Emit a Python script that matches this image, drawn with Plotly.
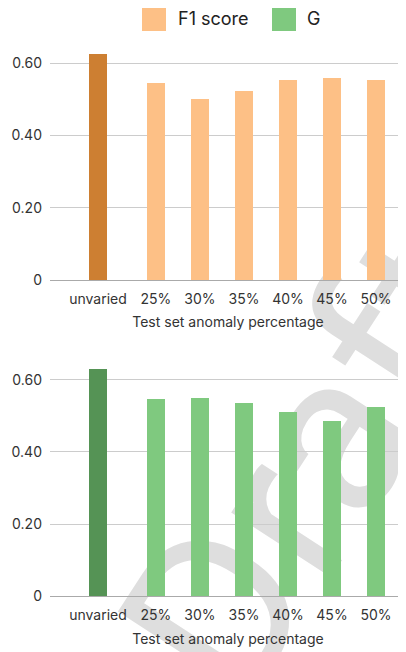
import plotly.graph_objects as go

categories = ["unvaried", "25%", "30%", "35%", "40%", "45%", "50%"]
f1_values = [0.628, 0.546, 0.504, 0.524, 0.554, 0.562, 0.554]
g_values = [0.630, 0.546, 0.551, 0.537, 0.512, 0.485, 0.524]
y_ticks = [0, 0.2, 0.4, 0.6]
y_ticktext = ["0", "0.20", "0.40", "0.60"]
x_title = "Test set anomaly percentage"
series_names = ["F1 score", "G"]
watermark = "Draft"

ORANGE = "#FDC086"
ORANGE_DARK = "#CD7F32"
GREEN = "#7FC97F"
GREEN_DARK = "#559355"
FONT = "Inter"
TEXT = "#333333"

# category positions: 'unvaried' is set apart from the percentage group
GAP = 0.318
xpos = [i + (GAP if i > 0 else 0.0) for i in range(len(categories))]

# page body has an 8px margin; figure fills the rest of the 406x652 window
W, H = 398, 644
fig = go.Figure()

def add_bars(vals, light, dark, xa, ya, name):
    fig.add_trace(go.Bar(
        x=xpos, y=vals, width=0.41,
        marker=dict(color=[dark] + [light] * (len(vals) - 1), line=dict(width=0)),
        xaxis=xa, yaxis=ya, name=name, showlegend=False,
        hovertemplate="%{y:.3f}<extra></extra>",
    ))

add_bars(f1_values, ORANGE, ORANGE_DARK, "x", "y", series_names[0])
add_bars(g_values, GREEN, GREEN_DARK, "x2", "y2", series_names[1])

def px_x(p):
    return p / W

def px_y(p):
    return 1 - p / H

xrange = [-1.09, 7.0]
common_x = dict(range=xrange, tickvals=xpos, ticktext=categories, showgrid=False,
                zeroline=False, showline=False, ticks="", automargin=False,
                tickfont=dict(family=FONT, size=14, color=TEXT), ticklabelstandoff=9,
                title=dict(text=x_title, font=dict(family=FONT, size=14, color=TEXT), standoff=11),
                fixedrange=True)
common_y = dict(range=[0, 0.63], tickvals=y_ticks, ticktext=y_ticktext, showgrid=True,
                gridcolor="#cccccc", gridwidth=1, zeroline=True, zerolinecolor="#aaaaaa",
                zerolinewidth=1, showline=False, ticks="", automargin=False,
                tickfont=dict(family=FONT, size=14, color=TEXT), ticklabelstandoff=7,
                fixedrange=True)

fig.update_layout(
    width=W, height=H,
    margin=dict(l=0, r=0, t=0, b=0),
    paper_bgcolor="white", plot_bgcolor="white",
    showlegend=False, bargap=0,
    xaxis=dict(domain=[px_x(42), 1], anchor="y", **common_x),
    yaxis=dict(domain=[px_y(272), px_y(44.5)], anchor="x", **common_y),
    xaxis2=dict(domain=[px_x(42), 1], anchor="y2", **common_x),
    yaxis2=dict(domain=[px_y(588.3), px_y(360.9)], anchor="x2", **common_y),
)

# watermark (behind the bars)
fig.add_shape(type="rect", xref="paper", yref="paper",
              x0=px_x(290), x1=px_x(291), y0=px_y(448), y1=px_y(449),
              line=dict(width=0), fillcolor="rgba(0,0,0,0)", layer="below",
              label=dict(text=watermark, textangle=-57, textposition="middle center",
                         font=dict(family="Roboto", size=225, color="#dedede")))

# legend drawn as shapes + text
legend_items = [(series_names[0], ORANGE, 134, 168), (series_names[1], GREEN, 264, 297)]
for name, col, sx, tx in legend_items:
    fig.add_shape(type="rect", xref="paper", yref="paper",
                  x0=px_x(sx), x1=px_x(sx + 24), y0=px_y(23), y1=px_y(-1),
                  fillcolor=col, line=dict(width=0))
    fig.add_annotation(text=name, xref="paper", yref="paper", x=px_x(tx), y=px_y(11),
                       xanchor="left", yanchor="middle", showarrow=False,
                       font=dict(family=FONT, size=18, color="#222222"))

fig.write_html("out.html", config={"displayModeBar": False})
